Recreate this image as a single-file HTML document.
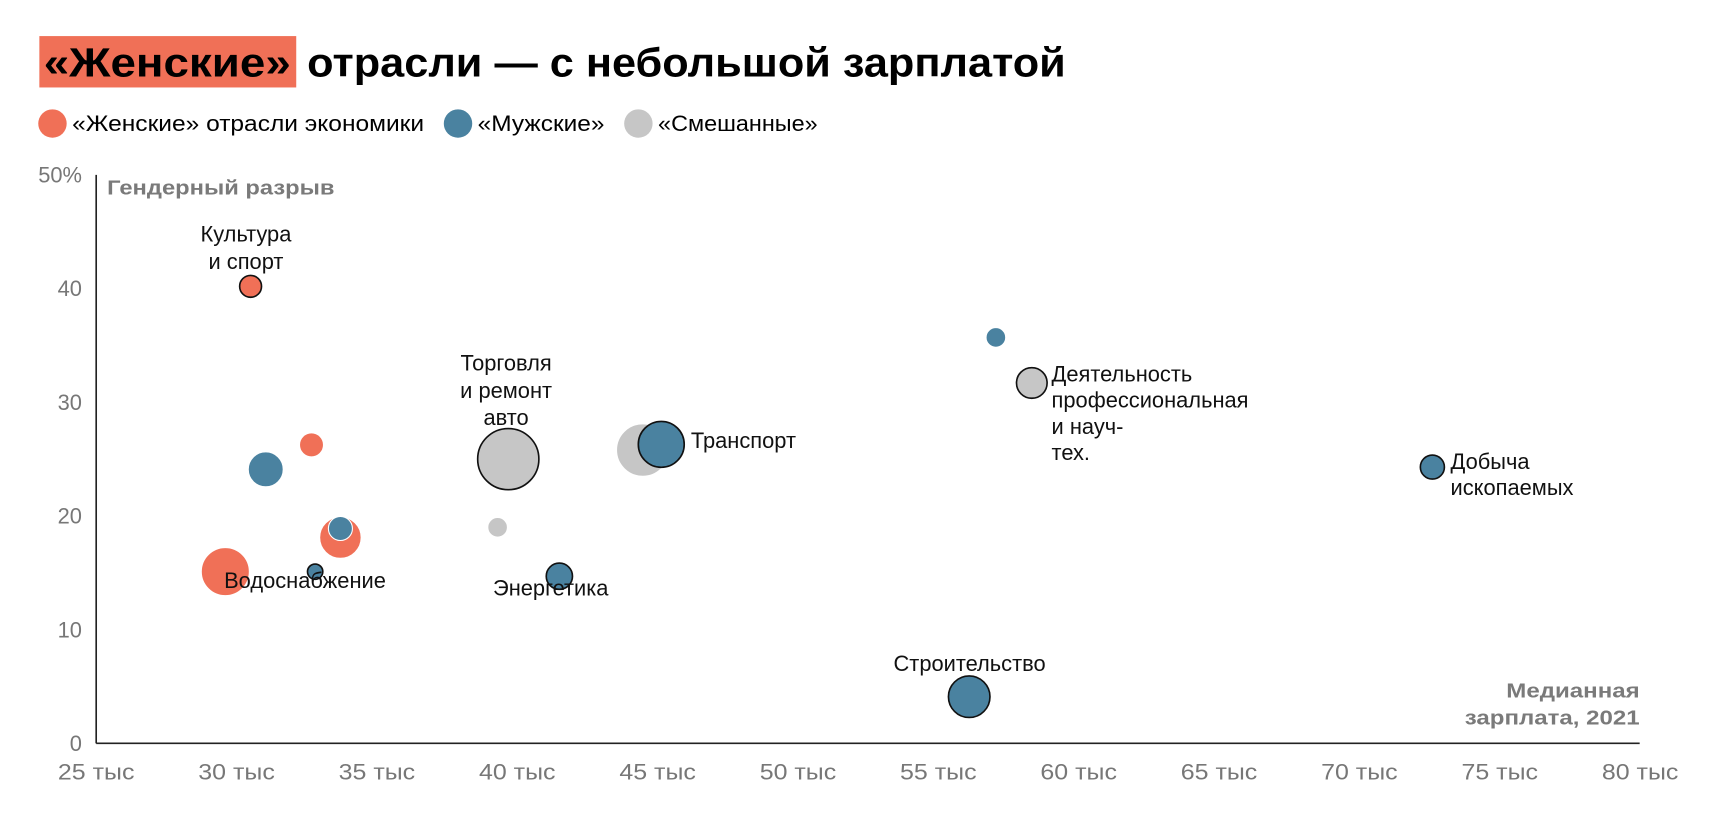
<!DOCTYPE html>
<html><head><meta charset="utf-8"><style>
html,body{margin:0;padding:0;background:#fff}
svg{display:block;font-family:"Liberation Sans","DejaVu Sans",sans-serif}
</style></head><body>
<svg id="chart" width="1714" height="818" viewBox="0 0 1568 748.3" xmlns="http://www.w3.org/2000/svg">
<rect x="36" y="33" width="235" height="47" fill="#f07057"/>
<text x="40" y="70" font-size="37" font-weight="bold" textLength="226" lengthAdjust="spacingAndGlyphs">«Женские»</text>
<text x="281" y="70" font-size="37" font-weight="bold" textLength="694" lengthAdjust="spacingAndGlyphs">отрасли — с небольшой зарплатой</text>
<g>
<circle cx="48" cy="113" r="13" fill="#f07057"/>
<text x="66" y="120" font-size="20" textLength="322" lengthAdjust="spacingAndGlyphs">«Женские» отрасли экономики</text>
<circle cx="419" cy="113" r="13" fill="#4a82a0"/>
<text x="437" y="120" font-size="20" textLength="116" lengthAdjust="spacingAndGlyphs">«Мужские»</text>
<circle cx="584" cy="113" r="13" fill="#c6c6c6"/>
<text x="602" y="120" font-size="20" textLength="146" lengthAdjust="spacingAndGlyphs">«Смешанные»</text>
</g>
<g id="axes"></g>
<g id="marks"></g>
<g id="labels"></g>
<text x="98" y="178" font-size="19" font-weight="bold" fill="#7a7a7a" textLength="208" lengthAdjust="spacingAndGlyphs">Гендерный разрыв</text>
<text x="1500" y="638" font-size="19" font-weight="bold" fill="#7a7a7a" text-anchor="end" textLength="122" lengthAdjust="spacingAndGlyphs">Медианная</text>
<text x="1500" y="663" font-size="19" font-weight="bold" fill="#7a7a7a" text-anchor="end" textLength="160" lengthAdjust="spacingAndGlyphs">зарплата, 2021</text>
</svg>
<script>
const xTicks = [25,30,35,40,45,50,55,60,65,70,75,80];
const yTicks = [0,10,20,30,40,50];
const yTickLabels = ["0","10","20","30","40","50%"];
const salary = [30.5,57.05,58.33,32.67,31.04,39.68,44.47,45.13,72.6,39.3,33.7,33.7,29.6,32.8,41.5,56.1];
const gap = [40.2,35.7,31.7,26.25,24.1,25.0,25.8,26.3,24.3,19.0,18.1,18.9,15.1,15.1,14.7,4.1];
const size = [100,81,196,121,256,784,576,441,121,81,361,121,484,49,144,361];
const group = ["w","m","x","w","m","x","x","m","m","x","w","m","w","m","m","m"];
const outlined = [1,0,1,0,0,1,0,1,1,0,0,0,0,1,1,1];
const NS="http://www.w3.org/2000/svg";
const X = v => 88 + (v-25)*25.68;
const Y = v => 680 - v*10.4;
const R = s => Math.sqrt(s);
const colors = {w:"#f07057",m:"#4a82a0",x:"#c6c6c6"};
function mk(tag, attrs, parent){const e=document.createElementNS(NS,tag);for(const k in attrs)e.setAttribute(k,attrs[k]);parent.appendChild(e);return e;}
const axes=document.getElementById('axes');
let l=mk('line',{x1:88,y1:Y(50),x2:88,y2:Y(0),stroke:'#222','stroke-width':1.5},axes);


l=mk('line',{x1:88,y1:Y(0),x2:1500,y2:Y(0),stroke:'#222','stroke-width':1.5},axes);


yTicks.forEach((v,i)=>{const t=mk('text',{x:75,y:Y(v)+7,'font-size':20,fill:'#777','text-anchor':'end'},axes);t.textContent=yTickLabels[i];

});
xTicks.forEach(v=>{const t=mk('text',{x:X(v),y:713,'font-size':20,fill:'#777','text-anchor':'middle',textLength:70,lengthAdjust:'spacingAndGlyphs'},axes);t.textContent=v+' тыс';

});
const marks=document.getElementById('marks');
const order=[...salary.keys()].sort((a,b)=>outlined[a]-outlined[b]);
order.forEach(i=>{const c=mk('circle',{cx:X(salary[i]),cy:Y(gap[i]),r:R(size[i]),fill:colors[group[i]],stroke:outlined[i]?'#111':'#fff','stroke-width':outlined[i]?1.5:1},marks);

});
const labels=document.getElementById('labels');
const labelDefs=[
 ["Культура",225,221,"middle"],["и спорт",225,246,"middle"],
 ["Торговля",463,339,"middle"],["и ремонт",463,364,"middle"],["авто",463,389,"middle"],
 ["Транспорт",632,410,"start"],
 ["Деятельность",962,349,"start"],["профессиональная",962,373,"start"],["и науч-",962,397,"start"],["тех.",962,421,"start"],
 ["Добыча",1327,429,"start"],["ископаемых",1327,453,"start"],
 ["Водоснабжение",205,538,"start"],["Энергетика",451,545,"start"],["Строительство",887,614,"middle"]];
labelDefs.forEach(d=>{const t=mk('text',{x:d[1],y:d[2],'font-size':20,fill:'#111','text-anchor':d[3]},labels);t.textContent=d[0];

});
</script>
</body></html>
